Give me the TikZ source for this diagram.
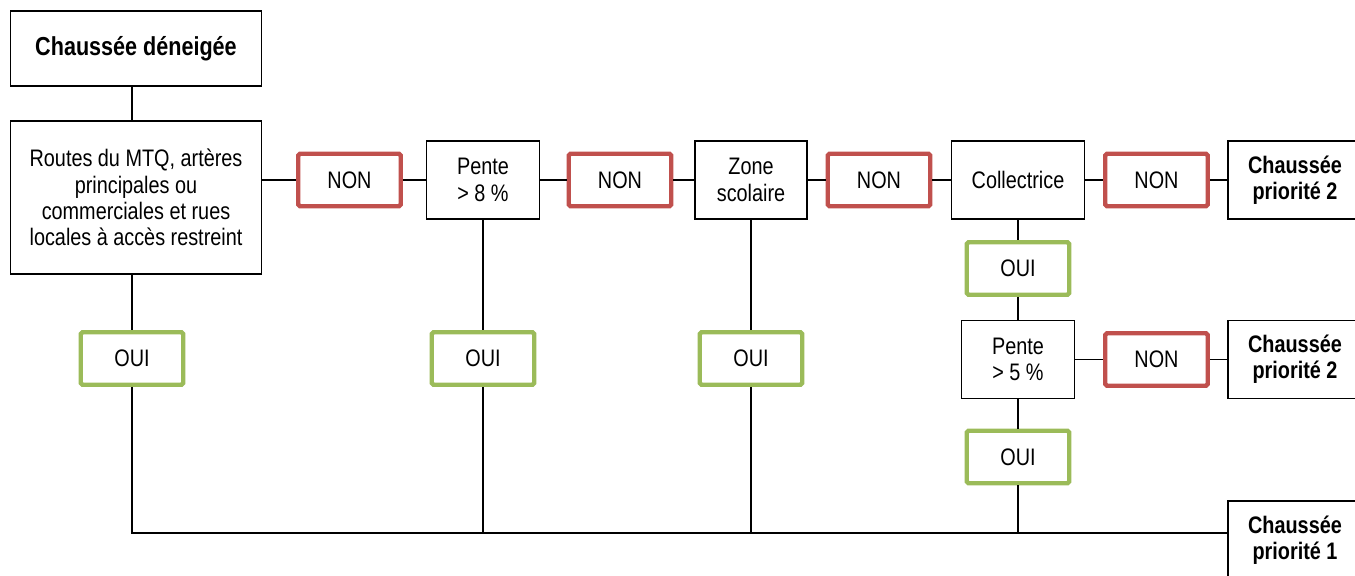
\documentclass[tikz,border=0pt]{standalone}
\usepackage{fontspec}
\setmainfont{Liberation Sans}[FakeStretch=0.83]
\usepackage{tikz}
\usetikzlibrary{positioning}
\definecolor{nonred}{HTML}{C0504D}
\definecolor{ouigreen}{HTML}{9BBB59}

\begin{document}
\begin{tikzpicture}[x=0.02cm, y=-0.02cm, line width=0.8pt,
    font=\fontsize{13.6}{15}\selectfont,
    box/.style={draw, line width=1.1pt, align=center, inner sep=0pt, minimum height=1.56cm},
    nonbox/.style={draw=nonred, line width=2.5pt, rounded corners=1pt, minimum width=2.05cm, minimum height=1.05cm, inner sep=0pt},
    ouibox/.style={nonbox, draw=ouigreen},
    endbox/.style={box, font=\fontsize{13.6}{15}\selectfont\bfseries, minimum width=2.68cm}]
    \clip (0,0) rectangle (1355,575);

    % top row
    \node[box, minimum width=5.02cm, minimum height=1.5cm, font=\fontsize{14.8}{15}\selectfont\bfseries] (deneige) at (136,48.5) {Chaussée déneigée};
    \node[box, minimum width=5.02cm, minimum height=3.06cm] (routes) at (136,197.5) {Routes du MTQ, artères\\principales ou\\commerciales et rues\\locales à accès restreint};
    \node[nonbox] (non1) at (349.5,180) {NON};
    \node[box, minimum width=2.26cm] (pente8) at (483,180) {Pente\\> 8 \%};
    \node[nonbox] (non2) at (620,180) {NON};
    \node[box, minimum width=2.24cm] (zone) at (751,180) {Zone\\scolaire};
    \node[nonbox] (non3) at (879,180) {NON};
    \node[box, minimum width=2.66cm] (collectrice) at (1018,180) {Collectrice};
    \node[nonbox] (non4) at (1156.5,180) {NON};
    \node[endbox] (prio2a) at (1295,180) {Chaussée\\priorité 2};

    % OUI row
    \node[ouibox] (oui1) at (132,358.5) {OUI};
    \node[ouibox] (oui2) at (483,358.5) {OUI};
    \node[ouibox] (oui3) at (751,358.5) {OUI};

    % collectrice branch
    \node[ouibox] (ouic) at (1018,268.5) {OUI};
    \node[box, minimum width=2.26cm] (pente5) at (1018,359.5) {Pente\\> 5 \%};
    \node[nonbox] (non5) at (1156.5,359.5) {NON};
    \node[endbox] (prio2b) at (1295,359.5) {Chaussée\\priorité 2};
    \node[ouibox] (ouid) at (1018,457) {OUI};

    \node[endbox] (prio1) at (1295,540) {Chaussée\\priorité 1};
    \coordinate (bus) at (132,533);

    % connectors
    \draw (deneige.south -| oui1) -- (routes.north -| oui1);
    \draw (routes.east |- non1) -- (non1) -- (pente8) -- (non2) -- (zone) -- (non3) -- (collectrice) -- (non4) -- (prio2a);
    \draw (routes.south -| oui1) -- (oui1) -- (bus) -- (bus -| prio1.west);
    \draw (pente8) -- (oui2) -- (oui2 |- bus);
    \draw (zone) -- (oui3) -- (oui3 |- bus);
    \draw (collectrice) -- (ouic) -- (pente5) -- (ouid) -- (ouid |- bus);
    \draw (pente5) -- (non5) -- (prio2b);
\end{tikzpicture}
\end{document}
